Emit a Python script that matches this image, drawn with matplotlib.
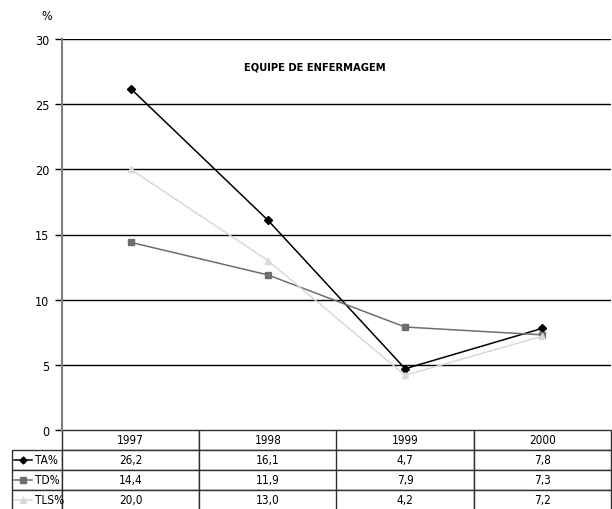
import matplotlib
matplotlib.use("Agg")
import matplotlib.pyplot as plt
from matplotlib import font_manager

anos = ["1997", "1998", "1999", "2000"]
series = ["TA%", "TD%", "TLS%"]
ta = [26.2, 16.1, 4.7, 7.8]
td = [14.4, 11.9, 7.9, 7.3]
tls = [20.0, 13.0, 4.2, 7.2]
yticks = [0, 5, 10, 15, 20, 25, 30]

# prefer a narrow face if one is installed
narrow = [f for f in font_manager.fontManager.ttflist
          if "Narrow" in f.name or f.stretch in ("condensed", "semi-condensed", 87.5, 75)]
if narrow:
    plt.rcParams["font.family"] = [narrow[0].name, "DejaVu Sans"]
    plt.rcParams["font.stretch"] = narrow[0].stretch
else:
    plt.rcParams["font.family"] = ["Liberation Sans", "DejaVu Sans"]

styles = [
    dict(color="black", marker="D", ms=4),
    dict(color="#6e6e6e", marker="s", ms=5),
    dict(color="#d8d8d8", marker="^", ms=5),
]

fig = plt.figure(figsize=(6.12, 5.10), dpi=100)
W, H = 612, 510
left, right, top, bottom = 62, 611, 40, 431
ax = fig.add_axes([left / W, 1 - bottom / H, (right - left) / W, (bottom - top) / H])

x = range(len(anos))
for vals, st in zip([ta, td, tls], styles):
    ax.plot(x, vals, lw=1.1, mec=st["color"], **st, zorder=3)

ax.set_xlim(-0.5, len(anos) - 0.5)
ax.set_ylim(0, 30)
ax.set_yticks(yticks)
ax.set_yticklabels([str(v) for v in yticks], fontsize=9)
ax.set_xticks([])
ax.tick_params(axis="y", direction="out", length=5, width=1, pad=4)
for y in yticks[1:]:
    ax.axhline(y, color="black", lw=1.0, zorder=1)
for s in ["top", "right", "bottom"]:
    ax.spines[s].set_visible(False)
ax.spines["left"].set_color("#808080")
ax.spines["left"].set_linewidth(1.5)

ax.text(0.46, 0.93, "EQUIPE DE ENFERMAGEM", transform=ax.transAxes,
        ha="center", va="center", fontsize=8, fontweight="bold")
fig.text(47 / W, 1 - 17 / H, "%", ha="center", va="center", fontsize=9)

# data table under the plot
row_h = 20
lab_w = left - 12
ax_w = right - left
ax_h = bottom - top
cells = [[""] + anos]
for name, vals in zip(series, [ta, td, tls]):
    cells.append([""] + [f"{v:.1f}".replace(".", ",") for v in vals])
nrows = len(cells)
tab = ax.table(cellText=cells, cellLoc="center",
               colWidths=[lab_w] + [ax_w / len(anos)] * len(anos),
               bbox=[-lab_w / ax_w, -nrows * row_h / ax_h,
                     (lab_w + ax_w) / ax_w, nrows * row_h / ax_h])
tab.auto_set_font_size(False)
for (r, c), cell in tab.get_celld().items():
    cell.set_fontsize(8.5)
    cell.set_edgecolor("#303030")
    cell.set_linewidth(1.0)
    if r == 0 and c == 0:
        cell.visible_edges = ""

# legend keys in the label column
x0 = -lab_w / ax_w
for i, (name, st) in enumerate(zip(series, styles)):
    yc = -((i + 1) * row_h + row_h / 2) / ax_h
    ax.plot([x0 + 2 / ax_w, x0 + 20 / ax_w], [yc, yc], transform=ax.transAxes,
            clip_on=False, lw=1.1, color=st["color"])
    ax.plot([x0 + 11 / ax_w], [yc], transform=ax.transAxes, clip_on=False,
            ls="none", marker=st["marker"], ms=st["ms"] - 0.5, color=st["color"])
    ax.text(x0 + 23 / ax_w, yc, name, transform=ax.transAxes, ha="left",
            va="center", fontsize=8.5)

fig.savefig("out.png", dpi=100)
